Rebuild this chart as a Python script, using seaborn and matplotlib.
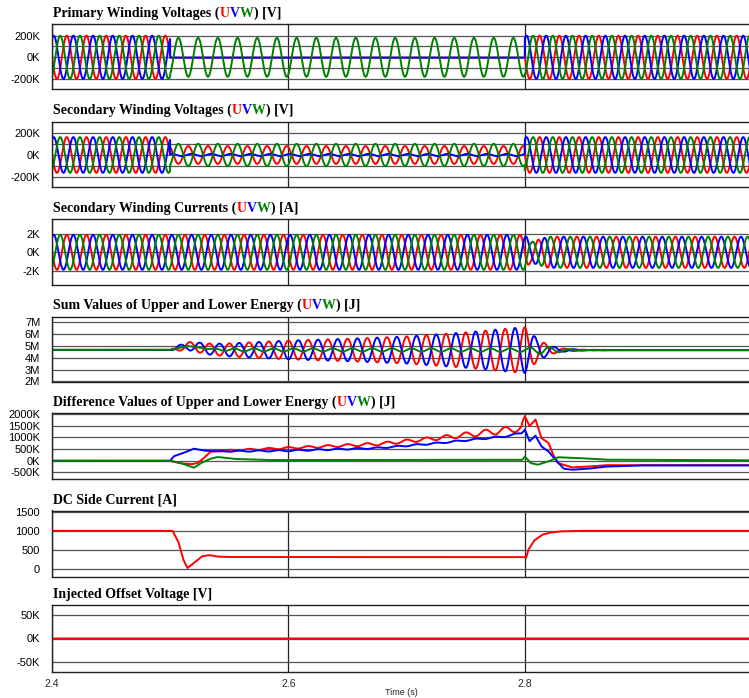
import numpy as np
import pandas as pd
import matplotlib
matplotlib.use("Agg")
import matplotlib.pyplot as plt
import seaborn as sns

# ---------------- data ----------------
F_HZ = 60.0
T_START, T_END = 2.4, 2.9913
x_ticks = [2.4, 2.6, 2.8]
x_tick_labels = ["2.4", "2.6", "2.8"]

titles = ["Primary Winding Voltages", "Secondary Winding Voltages",
          "Secondary Winding Currents", "Sum Values of Upper and Lower Energy",
          "Difference Values of Upper and Lower Energy", "DC Side Current",
          "Injected Offset Voltage"]
units = ["[V]", "[V]", "[A]", "[J]", "[J]", "[A]", "[V]"]
has_uvw = [True, True, True, True, True, False, False]

# base phase angles (deg) of U, V, W at t = 2.4 s
phase_U, phase_V, phase_W = 180, 60, 300

# Panel 1: primary winding voltages, piecewise segments
seg_t = [2.4, 2.5, 2.8]
prim_amp_U = [200e3, 0.0, 200e3]
prim_amp_V = [200e3, 0.0, 200e3]
prim_amp_W = [200e3, 180e3, 200e3]
prim_off_UV = [0.0, -3e3, 0.0]

# Panel 2: secondary winding voltages
sec_amp_U = [160e3, 80e3, 160e3]
sec_ph_U = [180, 120, 180]
sec_amp_V = [160e3, 10e3, 160e3]
sec_amp_W = [160e3, 100e3, 160e3]

# Panel 3: secondary winding currents (amplitude envelope)
cur_t = [2.4, 2.8, 2.805, 2.812, 2.82, 2.9913]
cur_amp = [1.9e3, 1.9e3, 1.1e3, 1.4e3, 1.7e3, 1.7e3]
cur_shift_t = [2.4, 2.8, 2.82, 2.9913]
cur_shift = [0, 0, 40, 40]

# Panel 4: sum energy
sum_mean_t = [2.4, 2.5, 2.515, 2.535, 2.55, 2.85, 2.9913]
sum_mean_v = [4.67e6, 4.67e6, 5.0e6, 4.72e6, 4.67e6, 4.65e6, 4.65e6]
sum_amp_t = [2.4, 2.5, 2.505, 2.52, 2.53, 2.56, 2.6, 2.65, 2.7, 2.75, 2.8,
             2.81, 2.82, 2.83, 2.85, 2.9, 2.9913]
sum_amp_UV = [0, 0, 0.2e6, 0.4e6, 0.45e6, 0.6e6, 0.8e6, 0.95e6, 1.15e6, 1.5e6,
              1.95e6, 1.0e6, 0.4e6, 0.15e6, 0.03e6, 0, 0]
sum_amp_W_t = [2.4, 2.52, 2.55, 2.8, 2.815, 2.84, 2.86, 2.9913]
sum_amp_W = [0, 0, 0.12e6, 0.15e6, 0.35e6, 0.05e6, 0, 0]

# Panel 5: difference energy (mean curves + ripple), values in J
diff_U_t = [2.4, 2.5, 2.509, 2.518, 2.523, 2.527, 2.534, 2.543, 2.6, 2.676,
            2.727, 2.783, 2.797, 2.8, 2.804, 2.809, 2.814, 2.82, 2.824, 2.828,
            2.84, 2.854, 2.868, 2.9, 2.9913]
diff_U_v = [-10e3, -10e3, -110e3, -150e3, -100e3, 50e3, 380e3, 430e3, 545e3,
            715e3, 970e3, 1300e3, 1400e3, 1900e3, 1480e3, 1760e3, 970e3, 760e3,
            255e3, -100e3, -285e3, -250e3, -190e3, -190e3, -190e3]
diff_V_t = [2.4, 2.5, 2.503, 2.511, 2.52, 2.529, 2.54, 2.6, 2.676, 2.727,
            2.783, 2.797, 2.8, 2.804, 2.809, 2.814, 2.82, 2.826, 2.833, 2.84,
            2.854, 2.868, 2.897, 2.9913]
diff_V_v = [0, 0, 190e3, 330e3, 515e3, 430e3, 400e3, 430e3, 545e3, 755e3,
            1040e3, 1180e3, 1330e3, 835e3, 1070e3, 615e3, 400e3, 30e3, -340e3,
            -385e3, -340e3, -250e3, -200e3, -200e3]
diff_W_t = [2.4, 2.5, 2.509, 2.518, 2.52, 2.526, 2.534, 2.54, 2.554, 2.582,
            2.798, 2.8, 2.805, 2.811, 2.82, 2.828, 2.846, 2.868, 2.9913]
diff_W_v = [0, 0, -100e3, -255e3, -300e3, -100e3, 85e3, 160e3, 80e3, 30e3,
            40e3, 180e3, -100e3, -170e3, -30e3, 150e3, 115e3, 45e3, 20e3]
rip_U_t = [2.4, 2.54, 2.55, 2.6, 2.676, 2.727, 2.783, 2.798, 2.8, 2.9913]
rip_U = [0, 0, 25e3, 40e3, 60e3, 80e3, 140e3, 140e3, 0, 0]
rip_V_t = [2.4, 2.54, 2.55, 2.798, 2.8, 2.9913]
rip_V = [0, 0, 25e3, 30e3, 0, 0]

# Panel 6: DC side current
dc_t = [2.4, 2.502, 2.507, 2.511, 2.5146, 2.52, 2.527, 2.533, 2.54, 2.55,
        2.8, 2.801, 2.803, 2.808, 2.815, 2.821, 2.83, 2.846, 2.9913]
dc_v = [1000, 1000, 700, 250, 20, 150, 330, 360, 320, 310, 310, 285, 500,
        750, 900, 950, 985, 1000, 1000]

# Panel 7: injected offset voltage
off_t = [2.4, 2.9913]
off_v = [0.0, 0.0]

# axis settings
ylims = [(-293e3, 308e3), (-287e3, 300e3), (-3.51e3, 3.63e3), (1.95e6, 7.5e6),
         (-780e3, 2040e3), (-203, 1535), (-70e3, 70e3)]
yticks = [[200e3, 0, -200e3], [200e3, 0, -200e3], [2e3, 0, -2e3],
          [7e6, 6e6, 5e6, 4e6, 3e6, 2e6],
          [2000e3, 1500e3, 1000e3, 500e3, 0, -500e3], [1500, 1000, 500, 0],
          [50e3, 0, -50e3]]
ytick_labels = [["200K", "0K", "-200K"], ["200K", "0K", "-200K"],
                ["2K", "0K", "-2K"], ["7M", "6M", "5M", "4M", "3M", "2M"],
                ["2000K", "1500K", "1000K", "500K", "0K", "-500K"],
                ["1500", "1000", "500", "0"], ["50K", "0K", "-50K"]]
ygrid_extra = [[100e3, -100e3], [100e3, -100e3], [], [], [], [], []]

# panel pixel rows (top, bottom) in a 749x698 canvas
rows_px = [(24, 89), (121.5, 187), (219, 284.5), (316.5, 382), (413, 479),
           (510.5, 576.5), (605, 672)]

RED, BLUE, GREEN = "#ff0000", "#0000ff", "#008000"

# ---------------- build series ----------------
t = np.arange(T_START, T_END, 1e-4)
theta = 2 * np.pi * F_HZ * (t - T_START)
seg = np.clip(np.searchsorted(seg_t, t, side="right") - 1, 0, 2)


def wave(amp, ph_deg, off=0.0):
    return off + amp * np.sin(theta + np.deg2rad(ph_deg))


a = np.asarray
prim = {
    "U": wave(a(prim_amp_U)[seg], phase_U, a(prim_off_UV)[seg]),
    "V": wave(a(prim_amp_V)[seg], phase_V, a(prim_off_UV)[seg]),
    "W": wave(a(prim_amp_W)[seg], phase_W),
}
sec = {
    "U": wave(a(sec_amp_U)[seg], a(sec_ph_U)[seg]),
    "V": wave(a(sec_amp_V)[seg], phase_V),
    "W": wave(a(sec_amp_W)[seg], phase_W),
}
camp = np.interp(t, cur_t, cur_amp)
csh = np.interp(t, cur_shift_t, cur_shift)
cur = {
    "U": wave(camp, phase_U + csh),
    "V": wave(camp, phase_V + csh),
    "W": wave(camp, phase_W + csh),
}
smean = np.interp(t, sum_mean_t, sum_mean_v)
samp = np.interp(t, sum_amp_t, sum_amp_UV)
sampw = np.interp(t, sum_amp_W_t, sum_amp_W)
summ = {
    "U": wave(samp, 90, smean),
    "V": wave(samp, -90, smean),
    "W": wave(sampw, 0, smean),
}
diff = {
    "U": wave(np.interp(t, rip_U_t, rip_U), 90, np.interp(t, diff_U_t, diff_U_v)),
    "V": wave(np.interp(t, rip_V_t, rip_V), -90, np.interp(t, diff_V_t, diff_V_v)),
    "W": np.interp(t, diff_W_t, diff_W_v),
}
dc = np.interp(t, dc_t, dc_v)
off = np.interp(t, off_t, off_v)

panels = [prim, sec, cur, summ, diff, {"U": dc}, {"U": off}]

# ---------------- draw ----------------
sns.set_style("white")
plt.rcParams["font.family"] = ["Liberation Sans", "DejaVu Sans"]

W_PX, H_PX = 749, 698
fig = plt.figure(figsize=(W_PX / 100, H_PX / 100), dpi=100)

title_font = dict(family=["Liberation Serif", "DejaVu Serif"], weight="bold",
                  fontsize=10)
colors = {"U": RED, "V": BLUE, "W": GREEN}
x_left = 52
for i, (top, bot) in enumerate(rows_px):
    ax = fig.add_axes([x_left / W_PX, 1 - bot / H_PX,
                       (W_PX + 2 - x_left) / W_PX, (bot - top) / H_PX])
    df = pd.DataFrame({"t": t})
    for key in ["U", "V", "W"]:
        if key in panels[i]:
            df[key] = panels[i][key]
            sns.lineplot(data=df, x="t", y=key, color=colors[key], lw=1.4,
                         ax=ax, estimator=None, legend=False, sort=False)
    ax.set_xlim(T_START, T_END)
    ax.set_ylim(*ylims[i])
    ax.set_yticks(yticks[i])
    ax.set_yticklabels(ytick_labels[i])
    ax.set_yticks(ygrid_extra[i], minor=True)
    ax.set_xticks(x_ticks)
    ax.set_xlabel("")
    ax.set_ylabel("")
    ax.grid(True, which="both", axis="y", color="#555555", lw=0.9, zorder=0)
    ax.grid(True, which="major", axis="x", color="#222222", lw=0.9, zorder=0)
    ax.set_axisbelow(True)
    ax.tick_params(axis="both", which="both", length=0)
    ax.tick_params(axis="y", labelsize=8, pad=8.5, colors="black")
    for s in ["top", "left", "bottom"]:
        ax.spines[s].set_color("#222222")
        ax.spines[s].set_linewidth(1.0)
    ax.spines["right"].set_visible(False)
    if i == len(rows_px) - 1:
        ax.set_xticklabels(x_tick_labels)
        ax.tick_params(axis="x", labelsize=7.5, pad=5)
        ax.set_xlabel("Time (s)", fontsize=6.5, labelpad=-0.5)
    else:
        ax.set_xticklabels([])

    # title with coloured UVW
    if has_uvw[i]:
        pieces = [(titles[i] + " (", "black"), ("U", RED), ("V", BLUE),
                  ("W", GREEN), (") " + units[i], "black")]
    else:
        pieces = [(titles[i] + " " + units[i], "black")]
    prev = ax.annotate(pieces[0][0], xy=(0, 1), xycoords="axes fraction",
                       xytext=(1, 3), textcoords="offset points",
                       ha="left", va="bottom", color=pieces[0][1], **title_font)
    for s, c in pieces[1:]:
        prev = ax.annotate(s, xy=(1, 0), xycoords=prev, ha="left",
                           va="bottom", color=c, **title_font)

fig.savefig("out.png", dpi=100)
